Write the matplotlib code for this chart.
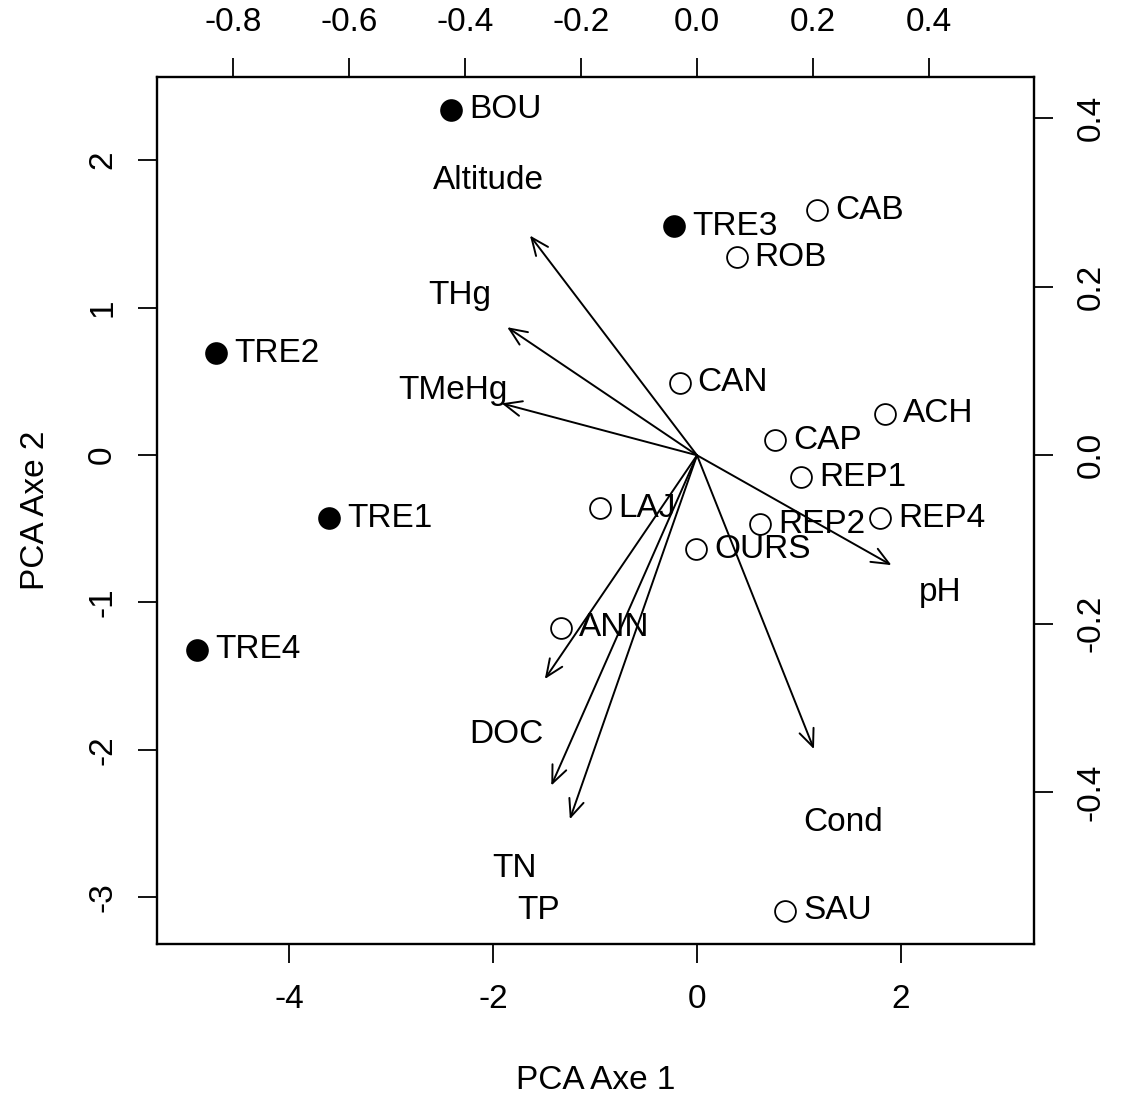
import numpy as np
import matplotlib.pyplot as plt

plt.rcParams['font.family'] = ['Liberation Sans', 'DejaVu Sans']
plt.rcParams['axes.unicode_minus'] = False

# site scores (PCA axes 1 and 2)
sites = ['BOU', 'TRE3', 'CAB', 'ROB', 'TRE2', 'CAN', 'ACH', 'CAP', 'REP1',
         'REP4', 'TRE1', 'LAJ', 'REP2', 'OURS', 'ANN', 'TRE4', 'SAU']
pc1 = [-2.41, -0.22, 1.18, 0.39, -4.72, -0.17, 1.85, 0.77, 1.02,
       1.80, -3.61, -0.95, 0.62, -0.01, -1.33, -4.91, 0.87]
pc2 = [2.34, 1.55, 1.66, 1.34, 0.69, 0.49, 0.28, 0.10, -0.15,
       -0.43, -0.43, -0.36, -0.47, -0.64, -1.17, -1.32, -3.09]
filled = ['BOU', 'TRE3', 'TRE2', 'TRE1', 'TRE4']

# variable loadings
variables = ['Altitude', 'THg', 'TMeHg', 'pH', 'Cond', 'DOC', 'TN', 'TP']
load1 = [-0.360, -0.409, -0.421, 0.419, 0.252, -0.328, -0.314, -0.274]
load2 = [0.326, 0.190, 0.077, -0.163, -0.436, -0.332, -0.490, -0.540]

fs = 24
fig = plt.figure(figsize=(11.22, 10.98), dpi=100)
rect = [0.1399, 0.1403, 0.7817, 0.7896]
ax = fig.add_axes(rect)
ax.set_xlim(-5.30, 3.31)
ax.set_ylim(-3.315, 2.563)

for s, x, y in zip(sites, pc1, pc2):
    if s in filled:
        ax.plot(x, y, 'o', ms=15, mfc='black', mec='black', mew=1.3)
    else:
        ax.plot(x, y, 'o', ms=15, mfc='white', mec='black', mew=1.3)
    ax.annotate(s, (x, y), xytext=(13, 0), textcoords='offset points',
                ha='left', va='center', fontsize=fs)

ax.set_xticks([-4, -2, 0, 2])
ax.set_yticks([-3, -2, -1, 0, 1, 2])
ax.tick_params(axis='x', length=14, width=1.3, pad=15, labelsize=fs)
ax.tick_params(axis='y', length=14, width=1.3, pad=14, labelsize=fs)
for lab in ax.get_yticklabels():
    lab.set_rotation(90)
    lab.set_va('center')
ax.set_xlabel('PCA Axe 1', fontsize=fs, labelpad=36)
ax.set_ylabel('PCA Axe 2', fontsize=fs, labelpad=26)
for sp in ax.spines.values():
    sp.set_linewidth(1.7)

# loadings axes
ax2 = fig.add_axes(rect, frameon=False)
ax2.set_xlim(-0.931, 0.581)
ax2.set_ylim(-0.580, 0.449)
ax2.xaxis.tick_top()
ax2.yaxis.tick_right()
ax2.set_xticks([-0.8, -0.6, -0.4, -0.2, 0.0, 0.2, 0.4])
ax2.set_yticks([-0.4, -0.2, 0.0, 0.2, 0.4])
ax2.set_xticklabels(['%.1f' % v for v in ax2.get_xticks()])
ax2.set_yticklabels(['%.1f' % v for v in ax2.get_yticks()],
                    rotation=90, va='center')
ax2.tick_params(axis='x', length=14, width=1.3, pad=14, labelsize=fs)
ax2.tick_params(axis='y', length=14, width=1.3, pad=16, labelsize=fs)

for v, lx, ly in zip(variables, load1, load2):
    ax2.annotate('', xy=(0.8 * lx, 0.8 * ly), xytext=(0, 0),
                 arrowprops=dict(arrowstyle='->,head_length=0.7,head_width=0.3',
                                 lw=1.4, color='black', mutation_scale=18,
                                 shrinkA=0, shrinkB=0))
    ax2.text(lx, ly, v, ha='center', va='center', fontsize=fs)

plt.savefig('out.png', dpi=100)
